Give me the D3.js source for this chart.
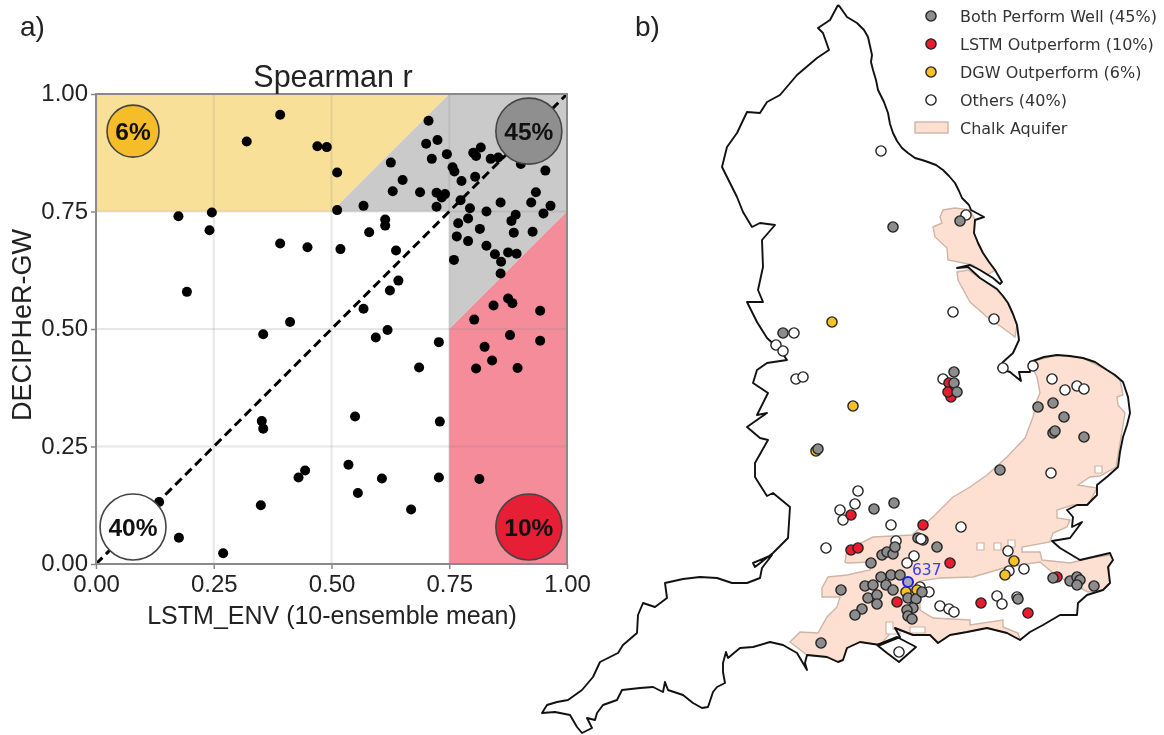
<!DOCTYPE html>
<html><head><meta charset="utf-8">
<script src="https://cdn.jsdelivr.net/npm/d3@7"></script>
<style>
html,body{margin:0;padding:0;background:#fff}
svg{display:block;filter:blur(0.5px)}
text{font-family:"Liberation Sans",Arial,sans-serif}
.legend text,.lab637{font-family:"DejaVu Sans",sans-serif}
</style></head><body><svg id="c" width="1164" height="735"></svg>
<script>
// ---------- panel a data ----------
const lstmEnv=[.391,.320,.470,.490,.512,.706,.725,.701,.745,.626,.713,.801,.817,.807,.838,.854,.902,.954,.757,.761,.776,.805,.651,.630,.688,.723,.741,.734,.934,.774,.859,.924,.965,.568,.723,.794,.829,.950,.512,.246,.175,.891,.882,.790,.769,.614,.614,.241,.815,.887,.927,.580,.766,.790,.391,.449,.519,.829,.637,.847,.875,.893,.760,.860,.859,.642,.624,.193,.875,.884,.844,.943,.803,.568,.412,.355,.619,.594,.728,.825,.879,.943,.841,.807,.895,.686,.550,.352,.355,.730,.536,.444,.430,.607,.728,.814,.556,.350,.669,.134,.176,.270];
const decipherGw=[.956,.899,.889,.887,.833,.943,.902,.894,.872,.854,.862,.875,.886,.868,.862,.865,.851,.837,.844,.835,.815,.824,.817,.793,.791,.790,.787,.780,.791,.774,.769,.769,.762,.762,.760,.757,.750,.746,.753,.748,.740,.743,.730,.735,.725,.733,.720,.710,.713,.705,.707,.706,.697,.687,.682,.674,.670,.677,.667,.659,.663,.660,.647,.643,.618,.603,.582,.579,.565,.555,.550,.539,.520,.543,.515,.489,.498,.482,.472,.462,.487,.475,.433,.416,.417,.418,.314,.304,.288,.303,.211,.199,.184,.182,.184,.181,.151,.125,.116,.132,.056,.023];
const tickValues=[0,.25,.5,.75,1];
const regionYellow=[[0,.75],[.5,.75],[.75,1],[0,1]];
const regionGray=[[.5,.75],[.75,.75],[.75,.5],[1,.75],[1,1],[.75,1]];
const regionRed=[[.75,0],[1,0],[1,.75],[.75,.5]];
const quadrantBadges=[
 {label:"6%",x:.0786,y:.921,fill:"#f6bd2b",r:26},
 {label:"45%",x:.919,y:.921,fill:"#8f8f8f",r:33},
 {label:"40%",x:.0786,y:.0787,fill:"#ffffff",r:33},
 {label:"10%",x:.919,y:.0787,fill:"#e61f36",r:33}];
// ---------- panel b data (map grid units) ----------
const coastEngland=[[838,5],[840,7],[847,17],[857,23],[864,30],[868,37],[870,46],[872,55],[871,62],[873,70],[876,80],[878,90],[884,102],[888,113],[890,124],[893,133],[897,141],[902,148],[908,153],[915,158],[922,160],[928,162],[936,165],[943,170],[949,176],[955,183],[959,191],[962,198],[969,205],[971,210],[984,217],[975,220],[974,233],[978,243],[983,253],[989,262],[995,270],[1002,282],[1000,284],[993,278],[980,270],[970,265],[957,268],[968,267],[980,278],[997,289],[1003,296],[1008,303],[1013,314],[1017,325],[1019,340],[1013,353],[1003,362],[998,368],[1010,372],[1021,381],[1019,372],[1030,372],[1030,362],[1044,357],[1057,355],[1070,356],[1083,358],[1095,362],[1107,370],[1115,375],[1123,382],[1128,397],[1130,413],[1127,425],[1123,437],[1120,452],[1118,467],[1108,476],[1097,485],[1097,495],[1087,505],[1077,505],[1067,510],[1073,517],[1072,527],[1082,522],[1070,538],[1052,541],[1060,548],[1080,560],[1110,553],[1113,560],[1108,567],[1110,583],[1103,590],[1087,595],[1078,603],[1077,615],[1060,615],[1043,625],[1030,632],[1020,640],[1007,633],[987,628],[967,632],[950,635],[938,643],[930,635],[913,635],[895,628],[900,637],[880,645],[860,642],[847,648],[843,660],[838,662],[827,657],[807,655],[805,663],[807,670],[797,653],[783,645],[770,642],[753,647],[740,648],[728,658],[726,652],[723,663],[723,672],[725,683],[717,687],[713,692],[708,707],[702,708],[693,703],[683,695],[668,690],[665,682],[663,692],[653,687],[640,688],[622,690],[617,700],[603,705],[597,713],[595,720],[587,718],[592,728],[582,733],[577,727],[570,715],[555,712],[542,713],[547,705],[557,702],[568,700],[582,690],[593,677],[600,662],[618,653],[623,645],[637,633],[638,615],[643,603],[655,607],[667,598],[665,583],[683,579],[700,577],[717,578],[732,583],[747,583],[760,578],[762,568],[772,555],[753,563],[755,567],[773,553],[788,538],[790,507],[773,493],[767,496],[755,477],[755,463],[768,440],[760,438],[747,427],[767,413],[757,415],[768,393],[753,383],[757,370],[767,363],[787,360],[780,350],[767,338],[757,322],[747,302],[763,302],[758,290],[763,267],[762,240],[775,225],[760,223],[752,227],[743,212],[737,197],[722,167],[727,147],[737,133],[747,112],[760,113],[767,102],[780,95],[797,75],[817,58],[829,50],[823,33],[818,28],[830,20],[838,5]];
const isleOfWight=[[877,645],[897,637],[916,647],[899,662],[887,653],[877,645]];
const chalkNorth=[[940,217],[943,210],[955,208],[970,210],[975,220],[974,233],[983,253],[995,270],[987,275],[973,265],[948,260],[947,248],[935,237],[933,227],[942,223]];
const chalkLincs=[[957,272],[968,270],[997,290],[1008,303],[1017,325],[1015,337],[1003,328],[987,317],[970,302],[958,280]];
const chalkMain=[[1030,362],[1057,355],[1083,358],[1107,370],[1120,380],[1123,395],[1117,397],[1118,405],[1125,413],[1121,437],[1116,467],[1100,476],[1090,477],[1078,485],[1097,488],[1088,505],[1073,505],[1057,510],[1057,518],[1070,520],[1067,527],[1053,533],[1050,542],[1022,547],[1022,552],[1040,552],[1042,560],[1070,563],[1090,558],[1110,555],[1113,560],[1109,567],[1110,583],[1103,590],[1088,592],[1070,583],[1053,573],[1040,562],[1007,567],[973,577],[940,578],[920,581],[920,610],[933,618],[970,620],[970,625],[1003,620],[1003,627],[1018,633],[1020,640],[1007,633],[987,628],[967,632],[950,635],[938,643],[930,635],[913,635],[895,628],[880,645],[860,642],[847,648],[843,660],[838,662],[827,657],[807,655],[790,642],[800,632],[818,633],[827,617],[837,607],[840,597],[822,597],[822,588],[828,577],[847,575],[870,570],[872,562],[847,563],[845,562],[847,550],[873,537],[912,535],[933,517],[953,497],[970,487],[987,475],[1007,457],[1025,438],[1033,417],[1037,400],[1040,393],[1037,377]];
const chalkHoles=[[[977,543],[984,543],[984,550],[977,550]],[[994,543],[1001,543],[1001,550],[994,550]],[[1008,540],[1015,540],[1015,547],[1008,547]],[[1095,466],[1102,466],[1102,473],[1095,473]],[[886,622],[893,622],[893,629],[900,629],[900,634],[886,634]],[[910,627],[925,627],[925,633],[910,633]]];
const stationsBoth=[[893,227],[960,221],[783,333],[818,449],[954,372],[954,383],[957,392],[1038,407],[1053,403],[1064,417],[1053,433],[1055,431],[1084,437],[1000,470],[894,503],[874,509],[937,547],[918,538],[923,540],[871,563],[882,555],[887,552],[893,554],[895,547],[841,590],[821,643],[881,577],[891,575],[900,575],[865,586],[873,585],[886,585],[893,590],[868,598],[877,595],[877,604],[862,609],[855,615],[908,598],[916,599],[922,592],[913,608],[907,610],[908,616],[912,619],[1070,581],[1077,577],[1080,580],[1077,585],[1094,586],[1053,578],[1018,599]];
const stationsLstm=[[949,383],[951,397],[948,392],[851,515],[923,525],[851,550],[858,548],[950,563],[1057,577],[981,603],[1028,613],[897,602]];
const stationsDgw=[[832,322],[853,406],[1014,561],[1005,575],[906,592],[917,590],[816,451]];
const stationsOthers=[[881,151],[966,215],[953,312],[994,319],[794,333],[776,345],[783,351],[796,379],[803,377],[826,548],[840,510],[843,520],[943,379],[1052,379],[1065,390],[1077,386],[1084,389],[1051,473],[858,491],[855,504],[891,525],[961,527],[896,541],[914,556],[907,563],[1008,551],[1024,569],[1009,571],[929,592],[920,587],[940,606],[949,609],[954,612],[997,596],[1002,604],[1017,597],[899,652],[1033,366],[1003,368]];
const stationsOthersTop=[[921,539]];
const station637=[908,582];
const legendItems=[
 {label:"Both Perform Well (45%)",fill:"#8c8c8c"},
 {label:"LSTM Outperform (10%)",fill:"#ea1b2f"},
 {label:"DGW Outperform (6%)",fill:"#f7c125"},
 {label:"Others (40%)",fill:"#ffffff"}];

const svg=d3.select("#c");
// ---------- panel a ----------
const x=d3.scaleLinear().domain([0,1]).range([96,567]);
const y=d3.scaleLinear().domain([0,1]).range([564,94]);
const pts=d=>d.map(p=>[x(p[0]),y(p[1])].join(",")).join(" ");
const a=svg.append("g");
[[regionYellow,"#f8e099"],[regionGray,"#cacaca"],[regionRed,"#f48c99"]].forEach(([r,c])=>
 a.append("polygon").attr("points",pts(r)).attr("fill",c));
const gridVals=tickValues.slice(1,4);
a.selectAll(".gx").data(gridVals).join("line").attr("x1",d=>x(d)).attr("x2",d=>x(d)).attr("y1",y(0)).attr("y2",y(1))
 .attr("stroke","#888").attr("stroke-opacity",.2).attr("stroke-width",2);
a.selectAll(".gy").data(gridVals).join("line").attr("y1",d=>y(d)).attr("y2",d=>y(d)).attr("x1",x(0)).attr("x2",x(1))
 .attr("stroke","#888").attr("stroke-opacity",.2).attr("stroke-width",2);
a.selectAll(".pt").data(lstmEnv).join("circle").attr("cx",d=>x(d)).attr("cy",(d,i)=>y(decipherGw[i])).attr("r",5).attr("fill","#000");
a.append("line").attr("x1",x(0)).attr("y1",y(0)).attr("x2",x(1)).attr("y2",y(1))
 .attr("stroke","#000").attr("stroke-width",3).attr("stroke-dasharray","9 5");
a.selectAll(".badge").data(quadrantBadges).join("circle").attr("cx",d=>x(d.x)).attr("cy",d=>y(d.y)).attr("r",d=>d.r)
 .attr("fill",d=>d.fill).attr("stroke","#444").attr("stroke-width",1.6);
a.selectAll(".bl").data(quadrantBadges).join("text").attr("x",d=>x(d.x)).attr("y",d=>y(d.y)+9).attr("text-anchor","middle")
 .attr("font-size",24.5).attr("font-weight","bold").attr("fill","#111").text(d=>d.label);
const fmt=d3.format(".2f");
const ax=a.append("g").attr("transform",`translate(0,${y(0)})`).call(d3.axisBottom(x).tickValues(tickValues).tickFormat(fmt).tickSize(5).tickPadding(6));
const ay=a.append("g").attr("transform",`translate(${x(0)},0)`).call(d3.axisLeft(y).tickValues(tickValues).tickFormat(fmt).tickSize(5).tickPadding(3));
[ax,ay].forEach(g=>{g.selectAll("text").attr("font-size",24).attr("fill","#222").style("font-family",'"Liberation Sans",Arial,sans-serif');
 g.select(".domain").remove();g.selectAll("line").attr("stroke","#888").attr("stroke-width",1.5);});
ay.selectAll("text").attr("dy","0.28em");
a.append("rect").attr("x",x(0)).attr("y",y(1)).attr("width",x(1)-x(0)).attr("height",y(0)-y(1)).attr("fill","none").attr("stroke","#8a8a8a").attr("stroke-width",2);
a.append("text").attr("x",333).attr("y",87).attr("text-anchor","middle").attr("font-size",30.5).attr("fill","#222").text("Spearman r");
a.append("text").attr("x",332).attr("y",624).attr("text-anchor","middle").attr("font-size",25).attr("fill","#222").text("LSTM_ENV (10-ensemble mean)");
a.append("text").attr("transform","translate(31,325) rotate(-90)").attr("text-anchor","middle").attr("font-size",27).attr("fill","#222").text("DECIPHeR-GW");
a.append("text").attr("x",20).attr("y",36).attr("font-size",28).attr("fill","#222").text("a)");
svg.append("text").attr("x",635).attr("y",36).attr("font-size",28).attr("fill","#222").text("b)");
// ---------- panel b ----------
const mx=d3.scaleLinear().domain([540,1160]).range([540,1160]);
const my=d3.scaleLinear().domain([0,735]).range([0,735]);
const ln=d3.line().x(d=>mx(d[0])).y(d=>my(d[1]));
const b=svg.append("g");
[chalkNorth,chalkLincs,chalkMain].forEach(p=>b.append("path").attr("d",ln(p)+"Z").attr("fill","#fde0d1").attr("stroke","#cfb5a6").attr("stroke-width",1.4));
chalkHoles.forEach(p=>b.append("path").attr("d",ln(p)+"Z").attr("fill","#fff").attr("stroke","#cfb5a6").attr("stroke-width",1.2));
[coastEngland,isleOfWight].forEach(p=>b.append("path").attr("d",ln(p)).attr("fill","none").attr("stroke","#111").attr("stroke-width",1.9).attr("stroke-linejoin","round"));
function stations(list,fill){b.append("g").selectAll("circle").data(list).join("circle").attr("cx",d=>mx(d[0])).attr("cy",d=>my(d[1])).attr("r",5.1).attr("fill",fill).attr("stroke","#222").attr("stroke-width",1.4);}
stations(stationsOthers,"#fff");
stations(stationsDgw,"#f7c125");
stations(stationsLstm,"#ea1b2f");
stations(stationsBoth,"#8c8c8c");
stations(stationsOthersTop,"#fff");
b.append("circle").attr("cx",mx(station637[0])).attr("cy",my(station637[1])).attr("r",5).attr("fill","#a8a8b4").attr("stroke","#1a1aff").attr("stroke-width",2);
b.append("text").attr("class","lab637").attr("x",mx(station637[0])+4).attr("y",my(station637[1])-7).attr("font-size",15.5).attr("fill","#3a3aff").text("637");
// legend
const L=svg.append("g").attr("class","legend");
const rowY=d3.scalePoint().domain(d3.range(5)).range([16,128]);
legendItems.forEach((d,i)=>{
 L.append("circle").attr("cx",931).attr("cy",rowY(i)).attr("r",5.1).attr("fill",d.fill).attr("stroke","#222").attr("stroke-width",1.4);
 L.append("text").attr("x",960).attr("y",rowY(i)+5.5).attr("font-size",16).attr("fill","#333").text(d.label);
});
L.append("rect").attr("x",915).attr("y",122).attr("width",33).attr("height",11).attr("fill","#fde0d1").attr("stroke","#cfb5a6").attr("stroke-width",1.4);
L.append("text").attr("x",960).attr("y",rowY(4)+5.5).attr("font-size",16).attr("fill","#333").text("Chalk Aquifer");
</script></body></html>
